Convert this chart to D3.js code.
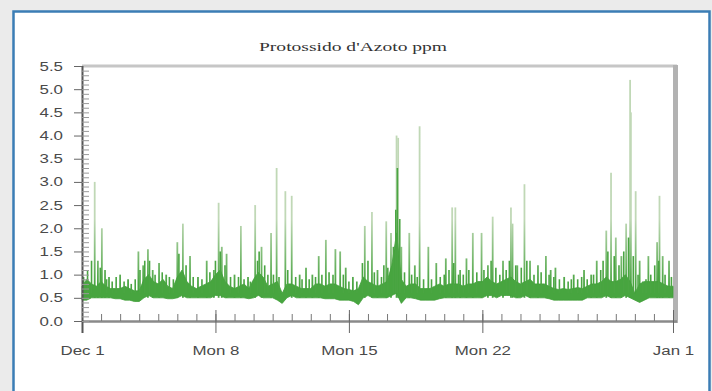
<!DOCTYPE html>
<html>
<head>
<meta charset="utf-8">
<script src="https://cdn.jsdelivr.net/npm/d3@7"></script>
<style>
  html, body { margin: 0; padding: 0; background: #ebebeb; }
  svg { display: block; }
</style>
</head>
<body>
<div id="chart"></div>
<script>
// --- data ---
const title = "Protossido d'Azoto ppm";
const startDate = new Date(2008, 11, 1);
const xTickDays = [0, 7, 14, 21, 31];
const xTickLabels = ["Dec 1", "Mon 8", "Mon 15", "Mon 22", "Jan 1"];
const yTicks = [0, 0.5, 1, 1.5, 2, 2.5, 3, 3.5, 4, 4.5, 5, 5.5];

// dense band, one value every 6 hours from Dec 1 00:00
const bandHigh = [
  0.75, 0.9, 0.8, 0.75,  0.85, 0.75, 0.7, 0.7,  0.7, 0.75, 0.7, 0.65,  0.65, 0.9, 1.0, 0.85,
  0.8, 0.9, 0.75, 0.7,  0.95, 1.1, 0.85, 0.75,  0.7, 0.75, 0.8, 0.85,  1.0, 1.1, 0.85, 0.75,
  0.7, 0.75, 0.8, 0.7,  0.9, 1.05, 0.95, 0.75,  0.8, 0.85, 0.6, 0.8,  0.8, 0.75, 0.7, 0.7,
  0.7, 0.8, 0.8, 0.75,  0.8, 0.8, 0.75, 0.7,  0.68, 0.65, 0.7, 0.95,  0.85, 0.8, 0.75, 0.8,
  0.85, 1.2, 1.9, 0.9,  0.75, 0.8, 0.8, 0.7,  0.7, 0.7, 0.75, 0.8,  0.75, 0.8, 0.8, 0.8,
  0.75, 0.8, 0.8, 0.85,  0.85, 0.95, 0.85, 0.8,  0.85, 0.9, 0.95, 0.85,  0.8, 0.85, 0.9, 0.8,
  0.8, 0.8, 0.75, 0.7,  0.68, 0.7, 0.68, 0.7,  0.72, 0.7, 0.75, 0.8,  0.8, 0.85, 0.95, 0.85,
  0.85, 0.9, 1.0, 0.85,  0.6, 0.8, 0.85, 0.85,  0.85, 0.85, 0.8, 0.75,  0.75
];
const bandLow = [
  0.45, 0.45, 0.5, 0.5,  0.5, 0.5, 0.5, 0.48,  0.48, 0.45, 0.45, 0.42,  0.42, 0.5, 0.55, 0.5,
  0.5, 0.5, 0.48, 0.48,  0.5, 0.55, 0.5, 0.5,  0.5, 0.5, 0.5, 0.5,  0.55, 0.55, 0.5, 0.5,
  0.5, 0.5, 0.5, 0.48,  0.5, 0.55, 0.5, 0.5,  0.5, 0.45, 0.38, 0.5,  0.55, 0.5, 0.5, 0.5,
  0.5, 0.5, 0.5, 0.48,  0.48, 0.48, 0.45, 0.45,  0.45, 0.42, 0.35, 0.5,  0.55, 0.5, 0.5, 0.5,
  0.5, 0.55, 0.6, 0.38,  0.5, 0.5, 0.48, 0.45,  0.45, 0.45, 0.45, 0.48,  0.5, 0.5, 0.5, 0.5,
  0.5, 0.5, 0.5, 0.5,  0.5, 0.55, 0.55, 0.5,  0.55, 0.55, 0.55, 0.5,  0.5, 0.55, 0.5, 0.5,
  0.5, 0.5, 0.48, 0.45,  0.45, 0.45, 0.45, 0.45,  0.45, 0.45, 0.5, 0.5,  0.5, 0.5, 0.55, 0.5,
  0.5, 0.5, 0.55, 0.5,  0.45, 0.4, 0.45, 0.5,  0.5, 0.5, 0.5, 0.5,  0.5
];

// short peaks inside the dense band: days after Dec 1, value in ppm
const smallPeakDays = [
  0.1, 0.3, 0.5, 0.95, 1.3, 1.6, 1.8, 2.2, 2.6, 2.8, 3.05, 3.3, 3.55, 3.85, 4.2, 4.6,
  4.8, 5.1, 5.45, 5.85, 6.3, 6.7, 7.0, 7.25, 7.5, 7.8, 8.2, 8.5, 8.85, 9.2, 9.3, 9.6,
  9.75, 10.05, 10.35, 10.8, 11.2, 11.55, 11.9, 12.25, 12.6, 12.95, 13.15, 13.7, 14.0, 14.4,
  14.7, 15.0, 15.35, 15.7, 15.85, 16.05, 16.35, 16.45, 16.55, 16.65, 16.9, 17.3, 17.6, 17.9,
  18.35, 18.8, 19.0, 19.25, 19.5, 19.75, 20.0, 20.3, 20.7, 21.1, 21.45, 21.7, 21.9, 22.25,
  22.4, 22.75, 23.05, 23.35, 23.7, 24.1, 24.5, 24.75, 25.05, 25.5, 25.65, 26.0, 26.2, 26.5,
  26.85, 27.2, 27.35, 27.6, 27.9, 28.15, 28.4, 28.65, 28.9, 29.15, 29.4, 29.6, 29.85, 30.05,
  30.25, 30.6, 30.9
];
const smallPeakValues = [
  0.95, 1.1, 1.3, 1.15, 0.9, 0.85, 0.95, 0.85, 0.8, 0.9, 1.1, 1.3, 1.3, 1.0, 1.05, 0.95,
  0.9, 1.45, 1.2, 0.95, 0.9, 1.05, 1.3, 1.5, 1.2, 0.95, 0.95, 0.9, 0.85, 1.3, 1.5, 1.2,
  1.0, 1.0, 0.95, 1.1, 0.95, 0.9, 0.9, 0.95, 1.0, 1.05, 1.0, 1.0, 0.85, 0.85,
  1.25, 1.3, 1.05, 0.95, 1.2, 1.15, 1.6, 2.4, 3.3, 2.2, 1.05, 1.0, 0.95, 0.9,
  0.9, 0.95, 1.0, 1.1, 1.25, 1.0, 1.0, 1.1, 1.05, 1.1, 1.3, 1.15, 1.0, 1.1,
  1.3, 1.2, 1.15, 1.3, 1.0, 1.05, 1.0, 0.95, 0.9, 0.85, 0.9, 0.9, 0.95, 0.9,
  1.0, 1.1, 1.3, 1.5, 1.4, 1.2, 1.5, 1.8, 1.4, 1.0, 0.85, 0.9, 1.0, 1.2,
  1.3, 1.0, 0.95
];

// tall isolated peaks: days after Dec 1, value in ppm
const spikeDays = [
  0.67, 0.85, 1.03, 1.2, 1.4, 2.0, 2.4, 2.95, 3.2, 3.45, 3.7, 4.05, 4.4, 5.0, 5.3, 5.67,
  6.1, 6.55, 6.9, 7.15, 7.35, 7.6, 8.0, 8.35, 8.7, 9.07, 9.4, 9.9, 10.2, 10.65, 11.0, 11.4,
  11.75, 12.1, 12.4, 12.8, 13.3, 13.55, 13.85, 14.2, 14.85, 15.2, 15.5, 15.95, 16.2, 16.5,
  16.6, 16.75, 17.15, 17.45, 17.7, 18.15, 18.6, 19.1, 19.4, 19.6, 19.85, 20.15, 20.5, 20.95,
  21.3, 21.55, 22.1, 22.5, 22.6, 22.85, 23.2, 23.5, 23.9, 24.35, 24.6, 24.85, 25.3, 25.8,
  26.35, 26.7, 27.0, 27.5, 27.75, 28.0, 28.3, 28.55, 28.75, 28.8, 29.05, 29.25, 29.7, 30.15,
  30.3, 30.45, 30.8
];
const spikeValues = [
  3.0, 1.3, 2.0, 1.1, 0.95, 1.0, 0.9, 1.5, 1.2, 1.55, 1.1, 1.25, 1.0, 1.7, 2.1, 1.4,
  0.95, 1.3, 1.1, 2.55, 1.6, 1.45, 1.0, 2.05, 0.95, 2.5, 1.6, 1.9, 3.3, 2.8, 2.7, 1.0,
  1.15, 1.0, 1.4, 1.75, 1.55, 1.5, 1.15, 0.95, 2.05, 2.35, 1.1, 2.15, 1.9, 4.0,
  3.95, 1.6, 1.9, 1.2, 4.2, 1.6, 1.25, 1.35, 2.45, 2.45, 1.1, 1.35, 1.9, 1.9,
  1.2, 2.25, 1.3, 2.45, 2.1, 1.2, 2.95, 1.3, 1.2, 1.4, 1.1, 1.15, 0.95, 1.0,
  1.1, 1.0, 1.3, 1.95, 3.2, 1.8, 1.4, 2.1, 5.2, 4.5, 2.8, 1.3, 1.4, 1.7,
  2.7, 1.4, 1.3
];

// --- layout ---
const W = 712, H = 391;
const plot = { left: 82, right: 673, top: 66, bottom: 321 };
const stretch = 1.35;

const atDay = d => d3.timeHour.offset(startDate, Math.round(d * 24));

const x = d3.scaleTime()
  .domain([startDate, atDay(31)])
  .range([plot.left, plot.right]);

const y = d3.scaleLinear()
  .domain([0, 5.5])
  .range([plot.bottom, plot.top]);

const svg = d3.select("#chart").append("svg")
  .attr("width", W)
  .attr("height", H);

// panel
svg.append("rect")
  .attr("x", 13.5).attr("y", 11.5)
  .attr("width", 696).attr("height", 400)
  .attr("fill", "#fff")
  .attr("stroke", "#3b7db5")
  .attr("stroke-width", 2.5);

// title
svg.append("text")
  .attr("x", 353).attr("y", 51)
  .attr("text-anchor", "middle")
  .attr("font-family", "'Liberation Serif', 'DejaVu Serif', serif")
  .attr("font-size", 13)
  .attr("fill", "#333")
  .attr("textLength", 188)
  .attr("lengthAdjust", "spacingAndGlyphs")
  .text(title);

// frame: top and right
svg.append("line")
  .attr("x1", plot.left).attr("x2", plot.right + 4)
  .attr("y1", plot.top).attr("y2", plot.top)
  .attr("stroke", "#c6c6c6").attr("stroke-width", 3);
svg.append("line")
  .attr("x1", plot.right + 2.5).attr("x2", plot.right + 2.5)
  .attr("y1", plot.top - 1).attr("y2", plot.bottom + 2)
  .attr("stroke", "#b2b2b2").attr("stroke-width", 5);

const bandData = bandHigh.map((h, i) => ({ t: atDay(i / 4), lo: bandLow[i], hi: h }));
const spikes = spikeDays.map((d, i) => ({ t: atDay(d), v: spikeValues[i] }));
const smallPeaks = smallPeakDays.map((d, i) => ({ t: atDay(d), v: smallPeakValues[i] }));

// tall peaks fade from band green to a pale grey-green
const defs = svg.append("defs");
const grad = defs.append("linearGradient")
  .attr("id", "spikeGrad")
  .attr("gradientUnits", "userSpaceOnUse")
  .attr("x1", 0).attr("x2", 0)
  .attr("y1", y(0.8)).attr("y2", y(2.2));
grad.append("stop").attr("offset", "0%").attr("stop-color", "#4aa542");
grad.append("stop").attr("offset", "100%").attr("stop-color", "#c0d8b6");

const chart = svg.append("g");

chart.selectAll(".spike")
  .data(spikes)
  .enter()
  .append("line")
  .attr("class", "spike")
  .attr("x1", d => x(d.t)).attr("x2", d => x(d.t))
  .attr("y1", y(0.5))
  .attr("y2", d => y(d.v))
  .attr("stroke", "url(#spikeGrad)")
  .attr("stroke-width", 1.8);

const area = d3.area()
  .x(d => x(d.t))
  .y0(d => y(d.lo))
  .y1(d => y(d.hi));

chart.append("path")
  .datum(bandData)
  .attr("d", area)
  .attr("fill", "#47a53f")
  .attr("stroke", "#43a03b")
  .attr("stroke-width", 0.8);

chart.selectAll(".small-peak")
  .data(smallPeaks)
  .enter()
  .append("line")
  .attr("class", "small-peak")
  .attr("x1", d => x(d.t)).attr("x2", d => x(d.t))
  .attr("y1", y(0.6))
  .attr("y2", d => y(d.v))
  .attr("stroke", "#4aa542")
  .attr("stroke-width", 1.6);

// x axis: daily minor ticks pointing up, major ticks crossing the line
const axisColor = "#8a8a8a";
const minorX = svg.append("g")
  .attr("transform", `translate(0,${plot.bottom})`)
  .call(d3.axisBottom(x)
    .ticks(d3.timeDay.every(1))
    .tickSizeInner(-7)
    .tickSizeOuter(0)
    .tickFormat(""));
minorX.select(".domain")
  .attr("stroke", axisColor).attr("stroke-width", 2.5)
  .attr("d", `M${plot.left},0.5H${plot.right + 4}`);
minorX.selectAll(".tick line").attr("stroke", "#777");

const majorDates = xTickDays.map(atDay);
const majorX = svg.append("g")
  .attr("transform", `translate(0,${plot.bottom})`)
  .call(d3.axisBottom(x)
    .tickValues(majorDates)
    .tickSize(12)
    .tickPadding(13)
    .tickFormat((d, i) => xTickLabels[i]));
majorX.select(".domain").remove();
majorX.selectAll(".tick line").attr("stroke", "#666").attr("y1", -11);
majorX.selectAll(".tick text")
  .attr("font-family", "'Liberation Sans', Arial, sans-serif")
  .attr("font-size", 12.5)
  .attr("fill", "#4a4a4a");

// y axis: labelled ticks outside, minor 0.1 ticks inside
const yAxis = svg.append("g")
  .attr("transform", `translate(${plot.left},0)`)
  .call(d3.axisLeft(y)
    .tickValues(yTicks)
    .tickSize(8)
    .tickPadding(11)
    .tickFormat(d3.format(".1f")));
yAxis.select(".domain")
  .attr("stroke", "#555").attr("stroke-width", 2)
  .attr("d", `M0.5,${plot.top}V${plot.bottom + 12}`);
yAxis.selectAll(".tick line").attr("stroke", "#666");
yAxis.selectAll(".tick text")
  .attr("font-family", "'Liberation Sans', Arial, sans-serif")
  .attr("font-size", 12.5)
  .attr("fill", "#4a4a4a");

const yMinor = svg.append("g")
  .attr("transform", `translate(${plot.left},0)`)
  .call(d3.axisRight(y)
    .tickValues(d3.range(0, 55).map(i => i / 10))
    .tickSize(7)
    .tickFormat(""));
yMinor.select(".domain").remove();
yMinor.selectAll(".tick line").attr("stroke", "#999");

// the source image is horizontally stretched: widen the labels to match
svg.selectAll(".tick text").each(function () {
  const len = this.getComputedTextLength();
  d3.select(this)
    .attr("textLength", len * stretch)
    .attr("lengthAdjust", "spacingAndGlyphs");
});
</script>
</body>
</html>
